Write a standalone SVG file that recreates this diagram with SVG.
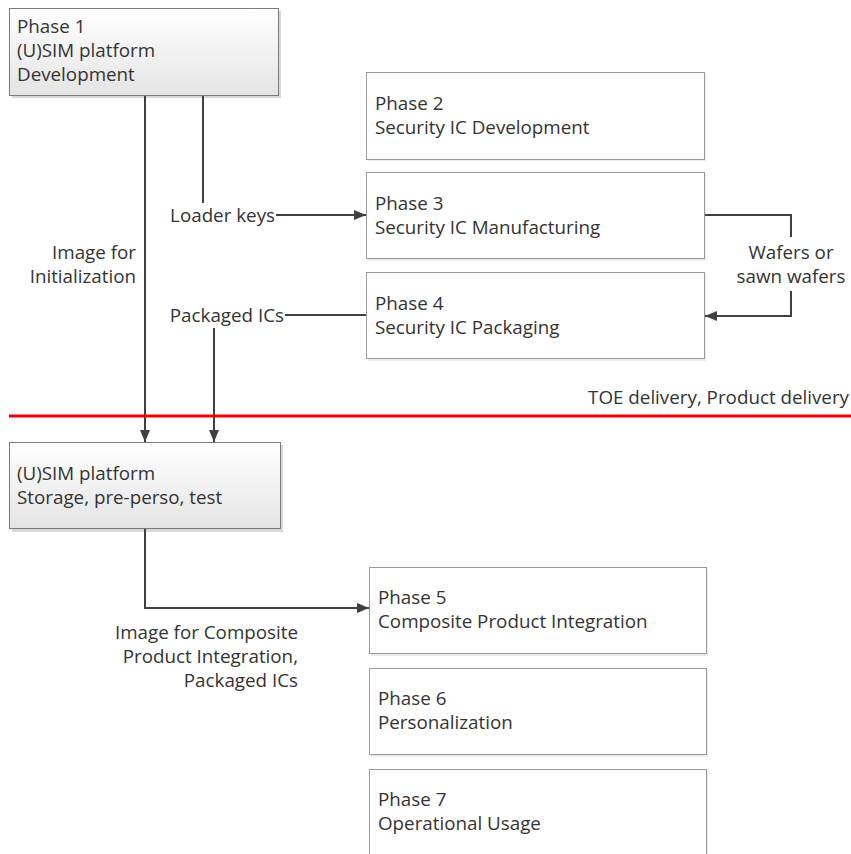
<svg xmlns="http://www.w3.org/2000/svg" width="851" height="854" viewBox="0 0 851 854">
<defs>
<linearGradient id="g" x1="0" y1="0" x2="0" y2="1"><stop offset="0" stop-color="#ffffff"/><stop offset="1" stop-color="#e4e4e4"/></linearGradient>
<marker id="a" viewBox="0 0 12 10" refX="12" refY="5" markerWidth="12" markerHeight="10" markerUnits="userSpaceOnUse" orient="auto"><path d="M0,0 L12,5 L0,10 z" fill="#404040"/></marker>
</defs>
<style>
text{font-family:"Open Sans","Noto Sans",sans-serif;font-size:18.8px;fill:#333}
.sh{fill:#d8d8d8}
.gb{fill:url(#g);stroke:#7a7a7a;stroke-width:1}
.wb{fill:#fff;stroke:#9a9a9a;stroke-width:1}
.c{fill:none;stroke:#404040;stroke-width:2}
.r{text-anchor:end}
.m{text-anchor:middle}
</style>
<rect width="851" height="854" fill="#fff"/>
<g id="phase1"><rect class="sh" x="12" y="11" width="269" height="87"/><rect class="gb" x="9.5" y="8.5" width="269" height="87"/><text x="17" y="33">Phase 1</text><text x="17" y="57">(U)SIM platform</text><text x="17" y="81">Development</text></g>
<g id="phase2"><rect class="sh" x="368" y="74" width="338" height="87" opacity="0.5"/><rect class="wb" x="366.5" y="72.5" width="338" height="87"/><text x="375" y="110">Phase 2</text><text x="375" y="134">Security IC Development</text></g>
<g id="phase3"><rect class="sh" x="368" y="174" width="338" height="87" opacity="0.5"/><rect class="wb" x="366.5" y="172.5" width="338" height="86"/><text x="375" y="210">Phase 3</text><text x="375" y="234">Security IC Manufacturing</text></g>
<g id="phase4"><rect class="sh" x="368" y="274" width="338" height="87" opacity="0.5"/><rect class="wb" x="366.5" y="272.5" width="338" height="86"/><text x="375" y="310">Phase 4</text><text x="375" y="334">Security IC Packaging</text></g>
<g id="usim"><rect class="sh" x="12" y="445" width="271" height="87"/><rect class="gb" x="9.5" y="442.5" width="271" height="86"/><text x="17" y="480">(U)SIM platform</text><text x="17" y="504">Storage, pre-perso, test</text></g>
<g id="phase5"><rect class="sh" x="371" y="569" width="337" height="87" opacity="0.5"/><rect class="wb" x="369.5" y="567.5" width="337" height="86"/><text x="378" y="604">Phase 5</text><text x="378" y="628">Composite Product Integration</text></g>
<g id="phase6"><rect class="sh" x="371" y="670" width="337" height="87" opacity="0.5"/><rect class="wb" x="369.5" y="668.5" width="337" height="86"/><text x="378" y="705">Phase 6</text><text x="378" y="729">Personalization</text></g>
<g id="phase7"><rect class="sh" x="371" y="771" width="337" height="87" opacity="0.5"/><rect class="wb" x="369.5" y="769.5" width="337" height="100"/><text x="378" y="806">Phase 7</text><text x="378" y="830">Operational Usage</text></g>
<g id="connectors">
<path class="c" d="M145,96 V442" marker-end="url(#a)"/>
<path class="c" d="M203,96 V203"/>
<path class="c" d="M276,215 H366" marker-end="url(#a)"/>
<path class="c" d="M285,315 H366"/>
<path class="c" d="M214,328 V442" marker-end="url(#a)"/>
<path class="c" d="M705,215 H791 V237"/>
<path class="c" d="M791,291 V316 H705" marker-end="url(#a)"/>
<path class="c" d="M145,529 V608 H369" marker-end="url(#a)"/>
<line x1="9" y1="416" x2="851" y2="416" stroke="#ee0000" stroke-width="3"/>
</g>
<g id="labels">
<text x="275" y="222" class="r">Loader keys</text>
<text x="284" y="322" class="r">Packaged ICs</text>
<text x="136" y="259" class="r">Image for</text>
<text x="136" y="283" class="r">Initialization</text>
<text x="791" y="259" class="m">Wafers or</text>
<text x="791" y="283" class="m">sawn wafers</text>
<text x="849" y="404" class="r">TOE delivery, Product delivery</text>
<text x="298" y="639" class="r">Image for Composite</text>
<text x="298" y="663" class="r">Product Integration,</text>
<text x="298" y="687" class="r">Packaged ICs</text>
</g>
</svg>
